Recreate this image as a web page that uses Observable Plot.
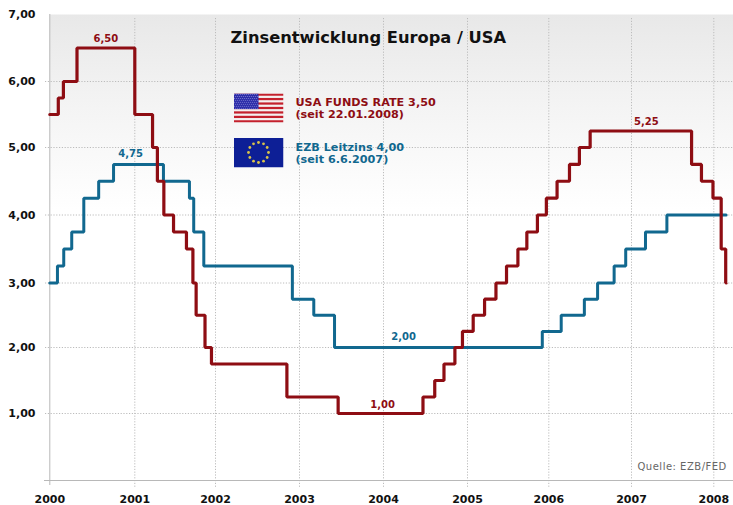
<!DOCTYPE html>
<html lang="de">
<head>
<meta charset="utf-8">
<title>Zinsentwicklung Europa / USA</title>
<style>
  html, body { margin: 0; padding: 0; background: #fff; }
  svg { display: block; }
  .spaced text, text.spaced { letter-spacing: 0.5px; }
</style>
<script src="https://cdn.jsdelivr.net/npm/d3@7"></script>
<script src="https://cdn.jsdelivr.net/npm/@observablehq/plot@0.6"></script>
</head>
<body>
<script>
// Fed funds target rate: each rate holds from its date until the next change.
const usaDates = [2000.00, 2000.10, 2000.16, 2000.32, 2001.00, 2001.22, 2001.28, 2001.36, 2001.48, 2001.64,
  2001.72, 2001.76, 2001.87, 2001.95, 2002.85, 2003.46, 2004.47, 2004.61, 2004.72, 2004.85,
  2004.94, 2005.07, 2005.21, 2005.35, 2005.48, 2005.62, 2005.73, 2005.86, 2005.97, 2006.10,
  2006.25, 2006.37, 2006.50, 2007.73, 2007.85, 2007.99, 2008.09, 2008.145, 2008.15];
const usaRates = [5.50, 5.75, 6.00, 6.50, 5.50, 5.00, 4.50, 4.00, 3.75, 3.50,
  3.00, 2.50, 2.00, 1.75, 1.25, 1.00, 1.25, 1.50, 1.75, 2.00,
  2.25, 2.50, 2.75, 3.00, 3.25, 3.50, 3.75, 4.00, 4.25, 4.50,
  4.75, 5.00, 5.25, 4.75, 4.50, 4.25, 3.50, 3.00, 3.00];

// ECB main refinancing rate.
const ezbDates = [2000.00, 2000.09, 2000.164, 2000.258, 2000.40, 2000.575, 2000.75, 2001.355, 2001.677, 2001.73,
  2001.855, 2002.915, 2003.17, 2003.417, 2005.92, 2006.15, 2006.43, 2006.59, 2006.79, 2006.93,
  2007.17, 2007.43, 2008.15];
const ezbRates = [3.00, 3.25, 3.50, 3.75, 4.25, 4.50, 4.75, 4.50, 4.25, 3.75,
  3.25, 2.75, 2.50, 2.00, 2.25, 2.50, 2.75, 3.00, 3.25, 3.50,
  3.75, 4.00, 4.00];

const years = [2000, 2001, 2002, 2003, 2004, 2005, 2006, 2007, 2008];
const yTicks = [0, 1, 2, 3, 4, 5, 6, 7];

// Peak and trough call-outs on each curve.
const usaLabelDates = [2000.66, 2003.99, 2007.18];
const usaLabelRates = [6.50, 1.00, 5.25];
const ezbLabelDates = [2000.95, 2004.24];
const ezbLabelRates = [4.75, 2.00];

const titleText = "Zinsentwicklung Europa / USA";
const usaLegend = ["USA FUNDS RATE 3,50", "(seit 22.01.2008)"];
const ezbLegend = ["EZB Leitzins 4,00", "(seit 6.6.2007)"];
const sourceText = "Quelle: EZB/FED";

const RED = "#8e0d13";
const BLUE = "#11688f";
const FONT = "'DejaVu Sans', Verdana, sans-serif";

const rows = (xs, ys) => xs.map((x, i) => ({x, y: ys[i]}));
const comma = (v) => v.toFixed(2).replace(".", ",");

// The axes are not quite uniform, so years and rates pass through a calibration first.
const yearToPx = d3.scaleLinear([...years, 2008.24], [49.3, 134.3, 215, 299, 383, 467, 548.3, 631, 713.3, 733]);
const rateToPx = d3.scaleLinear(yTicks, [480, 413, 347, 282.5, 214.5, 147, 81, 14]);

// Flags as small inline SVG images.
function usFlag() {
  let s = `<svg xmlns="http://www.w3.org/2000/svg" width="50" height="29" viewBox="0 0 50 29"><rect width="50" height="29" fill="#f4f0f0"/>`;
  for (let i = 0; i < 7; ++i) s += `<rect y="${i * 4.46}" width="50" height="2.23" fill="#c4202c"/>`;
  s += `<rect width="25" height="15.6" fill="#2c2ca8"/>`;
  for (let r = 0; r < 8; ++r) for (let c = 0; c < 12; ++c)
    s += `<circle cx="${1.2 + c * 2 + (r % 2)}" cy="${1 + r * 1.95}" r="0.5" fill="#8f8fd8"/>`;
  return "data:image/svg+xml," + encodeURIComponent(s + "</svg>");
}
function euFlag() {
  let s = `<svg xmlns="http://www.w3.org/2000/svg" width="50" height="30" viewBox="0 0 50 30"><rect width="50" height="30" fill="#0d1f96"/>`;
  for (let i = 0; i < 12; ++i) {
    const a = i * Math.PI / 6;
    s += `<circle cx="${25 + 10 * Math.sin(a)}" cy="${15 - 10 * Math.cos(a)}" r="1.4" fill="#d8c24a"/>`;
  }
  return "data:image/svg+xml," + encodeURIComponent(s + "</svg>");
}

// Panel background fades from light grey at the top to white.
const shade = () => {
  const defs = d3.create("svg:defs");
  const g = defs.append("linearGradient").attr("id", "panel-shade")
    .attr("x1", 0).attr("y1", 0).attr("x2", 0).attr("y2", 1);
  g.append("stop").attr("offset", "0%").attr("stop-color", "#e8e8e8");
  g.append("stop").attr("offset", "20%").attr("stop-color", "#f4f4f4");
  g.append("stop").attr("offset", "42%").attr("stop-color", "#ffffff");
  return defs.node();
};

// A line of text pinned to the top-left corner of the frame.
const note = (text, dx, dy, opts) => Plot.text([text], {
  frameAnchor: "top-left", textAnchor: "start", lineAnchor: "middle",
  dx, dy, fontFamily: FONT, ...opts
});

const chart = Plot.plot({
  width: 733,
  height: 505,
  marginLeft: 49,
  marginRight: 0,
  marginTop: 14,
  marginBottom: 25,
  style: {fontFamily: FONT, background: "#fff"},
  x: {transform: yearToPx, domain: [49, 733], range: [49, 733], axis: null},
  y: {transform: rateToPx, domain: [480, 14], range: [480, 14], axis: null},
  marks: [
    shade,
    Plot.frame({fill: "url(#panel-shade)", stroke: "none"}),
    // dotted grid, running a little past the axes
    Plot.ruleX(years.slice(1), {stroke: "#bcbcbc", strokeDasharray: "1.2,1.6", strokeWidth: 1, insetTop: 4, insetBottom: -7}),
    Plot.ruleY(yTicks.slice(1, -1), {stroke: "#bcbcbc", strokeDasharray: "1.2,1.6", strokeWidth: 1, insetLeft: -4}),
    Plot.ruleX([2000], {stroke: "#b8b8b8", insetBottom: -5}),
    Plot.ruleY([0], {stroke: "#b8b8b8", insetLeft: -5}),
    // axis labels
    Plot.text(years, {x: (d) => d, text: (d) => String(d), frameAnchor: "bottom", lineAnchor: "middle", dy: 18.5,
      fontSize: 11, fontWeight: "bold", fill: "#111"}),
    Plot.text(yTicks.slice(1), {y: (d) => d, text: comma, frameAnchor: "left", textAnchor: "end", dx: -14,
      fontSize: 11, fontWeight: "bold", fill: "#111"}),
    // rate curves
    Plot.line(rows(ezbDates, ezbRates), {x: "x", y: "y", curve: "step-after", stroke: BLUE, strokeWidth: 3, strokeLinejoin: "miter"}),
    Plot.line(rows(usaDates, usaRates), {x: "x", y: "y", curve: "step-after", stroke: RED, strokeWidth: 3.2, strokeLinejoin: "miter"}),
    // value call-outs
    Plot.text(rows(usaLabelDates, usaLabelRates), {x: "x", y: "y", text: (d) => comma(d.y), dy: -9, fill: RED, fontSize: 10, fontWeight: "bold"}),
    Plot.text(rows(ezbLabelDates, ezbLabelRates), {x: "x", y: "y", text: (d) => comma(d.y), dy: -11, fill: BLUE, fontSize: 10, fontWeight: "bold"}),
    // heading, legend and source
    note(titleText, 181, 23, {fontSize: 16.3, fontWeight: "bold", fill: "#111"}),
    Plot.image([usFlag()], {src: (d) => d, frameAnchor: "top-left", dx: 209, dy: 93.5, width: 50, height: 29, preserveAspectRatio: "none"}),
    Plot.image([euFlag()], {src: (d) => d, frameAnchor: "top-left", dx: 209, dy: 138, width: 50, height: 30, preserveAspectRatio: "none"}),
    note(usaLegend[0], 246, 88, {fontSize: 11.2, fontWeight: 600, fill: RED}),
    note(usaLegend[1], 246, 99.5, {fontSize: 11.2, fontWeight: 600, fill: RED}),
    note(ezbLegend[0], 246, 133, {fontSize: 11.2, fontWeight: 600, fill: BLUE}),
    note(ezbLegend[1], 246, 144.5, {fontSize: 11.2, fontWeight: 600, fill: BLUE}),
    note(sourceText, 588, 452, {fontSize: 10, fill: "#666", className: "spaced"})
  ]
});
document.body.append(chart);
</script>
</body>
</html>
